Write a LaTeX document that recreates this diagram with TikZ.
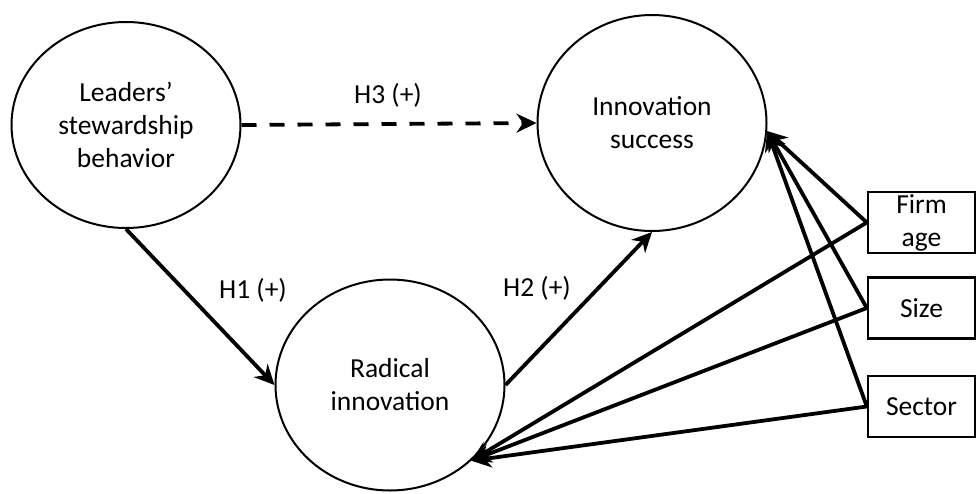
\documentclass[tikz,border=0pt]{standalone}
\usepackage{fontspec}
\setmainfont{Carlito}
\usetikzlibrary{shapes.geometric,arrows.meta}
\tikzset{
  construct/.style={ellipse,draw,line width=2pt,minimum width=229pt,align=center,inner sep=0pt},
  ctrlbox/.style={rectangle,draw,line width=2.4pt,minimum width=107pt,minimum height=61pt,align=center,inner sep=0pt},
  path/.style={line width=3.8pt,-{Stealth[length=20pt,width=19pt]}},
  hyp/.style={inner sep=0pt}
}
\begin{document}
\begin{tikzpicture}[x=1pt,y=-1pt,font=\fontsize{27.5}{33}\selectfont]
  \useasboundingbox (0,0) rectangle (976,493);
  \node[construct,minimum height=206pt] (lead) at (126,125) {Leaders’\\stewardship\\behavior};
  \node[construct,minimum height=216pt] (succ) at (652,123) {Innovation\\success};
  \node[construct,minimum height=211pt] (rad) at (390,385) {Radical\\innovation};
  \node[ctrlbox] (age) at (921.5,222.5) {Firm\\age};
  \node[ctrlbox] (size) at (921.5,308) {Size};
  \node[ctrlbox] (sector) at (921.5,406.5) {Sector};
  % hypotheses
  \draw[path] (lead.south) -- (rad.west);
  \draw[path] (rad.east) -- (succ.south);
  \draw[path,dash pattern=on 15pt off 13pt] (lead.east) -- (succ.west);
  \node[hyp] (h1) at (253,290) {H1 (+)};
  \node[hyp] (h2) at (537,288) {H2 (+)};
  \node[hyp] (h3) at (388,95) {H3 (+)};
  % controls
  \foreach \c in {age,size,sector} {
    \draw[path] (\c.west) -- (succ.-4);
    \draw[path] (\c.west) -- (rad.-43);
  }
\end{tikzpicture}
\end{document}
